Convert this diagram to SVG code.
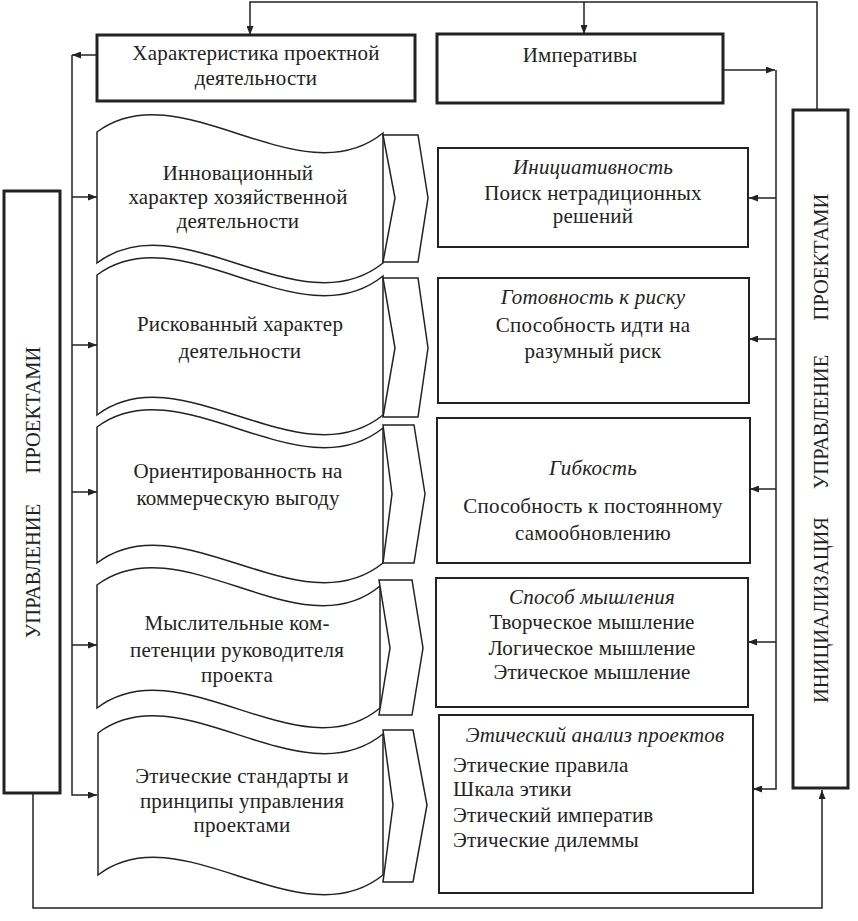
<svg xmlns="http://www.w3.org/2000/svg" width="858" height="921" viewBox="0 0 858 921">
<defs>
<style>
.t{font-family:"Liberation Serif","Times New Roman",serif;font-size:21px;letter-spacing:0.2px;fill:#222;text-anchor:middle}
.i{font-style:italic}
.l{text-anchor:start}
.v{font-family:"Liberation Serif","Times New Roman",serif;font-size:20.5px;fill:#222;text-anchor:middle}
.thick{fill:#fff;stroke:#222;stroke-width:3}
.box{fill:#fff;stroke:#222;stroke-width:2}
.wave{fill:#fff;stroke:#222;stroke-width:1.5}
.con{fill:none;stroke:#222;stroke-width:1.5}
</style>
<marker id="ah" markerWidth="9" markerHeight="7" refX="9" refY="3.5" orient="auto" markerUnits="userSpaceOnUse"><path d="M0,0 L9,3.5 L0,7 z" fill="#222"/></marker>
</defs>
<rect width="858" height="921" fill="#fff"/>

<g id="connectors">
<path class="con" d="M817,110 V2 H250 V35" marker-end="url(#ah)"/>
<path class="con" d="M584,2 V34" marker-end="url(#ah)"/>
<path class="con" d="M723,70 H775" marker-end="url(#ah)"/>
<path class="con" d="M776,70 V789 H753" marker-end="url(#ah)"/>
<path class="con" d="M776,198 H749" marker-end="url(#ah)"/>
<path class="con" d="M776,339 H749" marker-end="url(#ah)"/>
<path class="con" d="M776,489 H750" marker-end="url(#ah)"/>
<path class="con" d="M776,642 H748" marker-end="url(#ah)"/>
<path class="con" d="M97,55 H72" marker-end="url(#ah)"/>
<path class="con" d="M72,55 V795 H97" marker-end="url(#ah)"/>
<path class="con" d="M72,197 H97" marker-end="url(#ah)"/>
<path class="con" d="M72,345 H97" marker-end="url(#ah)"/>
<path class="con" d="M72,492 H97" marker-end="url(#ah)"/>
<path class="con" d="M72,645 H97" marker-end="url(#ah)"/>
<path class="con" d="M33,793 V908 H822 V790" marker-end="url(#ah)"/>
</g>

<g id="char-header">
<rect class="thick" x="97" y="35" width="318" height="66"/>
<text class="t" x="256" y="60">Характеристика проектной</text>
<text class="t" x="256" y="85">деятельности</text>
</g>

<g id="imperatives-header">
<rect class="thick" x="437" y="34" width="286" height="69"/>
<text class="t" x="580" y="62">Императивы</text>
</g>

<g id="left-mgmt">
<rect class="thick" x="4" y="191" width="56" height="602"/>
<text class="v" transform="translate(40,410) rotate(-90)">ПРОЕКТАМИ</text>
<text class="v" transform="translate(40,571) rotate(-90)">УПРАВЛЕНИЕ</text>
</g>

<g id="right-init">
<rect class="thick" x="793" y="110" width="55" height="678"/>
<text class="v" transform="translate(828,257) rotate(-90)">ПРОЕКТАМИ</text>
<text class="v" transform="translate(828,422) rotate(-90)">УПРАВЛЕНИЕ</text>
<text class="v" transform="translate(828,610) rotate(-90)">ИНИЦИАЛИЗАЦИЯ</text>
</g>

<g id="shape1">
<path class="wave" d="M97,132 C180,70 300,200 383,133 V263 C300,330 180,200 97,263 Z"/>
<path class="wave" d="M383,135 H418 L428,198 L418,262 H383 L395,198 Z"/>
<text class="t" x="238" y="180">Инновационный</text>
<text class="t" x="238" y="204">характер хозяйственной</text>
<text class="t" x="238" y="228">деятельности</text>
</g>

<g id="shape2">
<path class="wave" d="M97,275 C180,213 300,343 383,276 V415 C300,482 180,352 97,415 Z"/>
<path class="wave" d="M383,278 H418 L428,348 L418,417 H383 L395,348 Z"/>
<text class="t" x="240" y="331">Рискованный характер</text>
<text class="t" x="240" y="358">деятельности</text>
</g>

<g id="shape3">
<path class="wave" d="M97,427 C180,365 300,495 383,428 V563 C300,630 180,500 97,563 Z"/>
<path class="wave" d="M383,425 H414 L425,494 L414,563 H383 L392,494 Z"/>
<text class="t" x="238" y="478">Ориентированность на</text>
<text class="t" x="238" y="505">коммерческую выгоду</text>
</g>

<g id="shape4">
<path class="wave" d="M97,585 C180,523 300,653 380,586 V708 C300,775 180,645 97,708 Z"/>
<path class="wave" d="M379,580 H412 L423,648 L412,715 H379 L390,648 Z"/>
<text class="t" x="237" y="630">Мыслительные ком-</text>
<text class="t" x="237" y="657">петенции руководителя</text>
<text class="t" x="237" y="682">проекта</text>
</g>

<g id="shape5">
<path class="wave" d="M98,733 C180,671 300,801 383,734 V875 C300,942 180,812 98,875 Z"/>
<path class="wave" d="M383,730 H413 L427,805 L413,882 H383 L393,805 Z"/>
<text class="t" x="242" y="783">Этические стандарты и</text>
<text class="t" x="242" y="808">принципы управления</text>
<text class="t" x="242" y="832">проектами</text>
</g>

<g id="box-initiative">
<rect class="box" x="438" y="148" width="310" height="99"/>
<text class="t i" x="593" y="174">Инициативность</text>
<text class="t" x="593" y="200">Поиск нетрадиционных</text>
<text class="t" x="593" y="223">решений</text>
</g>

<g id="box-risk">
<rect class="box" x="438" y="278" width="311" height="125"/>
<text class="t i" x="593" y="304">Готовность к риску</text>
<text class="t" x="593" y="332">Способность идти на</text>
<text class="t" x="593" y="358">разумный риск</text>
</g>

<g id="box-flex">
<rect class="box" x="437" y="418" width="313" height="145"/>
<text class="t i" x="593" y="475">Гибкость</text>
<text class="t" x="593" y="513">Способность к постоянному</text>
<text class="t" x="593" y="540">самообновлению</text>
</g>

<g id="box-thinking">
<rect class="box" x="436" y="578" width="312" height="129"/>
<text class="t i" x="592" y="604">Способ мышления</text>
<text class="t" x="592" y="629">Творческое мышление</text>
<text class="t" x="592" y="655">Логическое мышление</text>
<text class="t" x="592" y="679">Этическое мышление</text>
</g>

<g id="box-ethics">
<rect class="box" x="439" y="715" width="314" height="178"/>
<text class="t i" x="595" y="742">Этический анализ проектов</text>
<text class="t l" x="453" y="772">Этические правила</text>
<text class="t l" x="453" y="796">Шкала этики</text>
<text class="t l" x="453" y="822">Этический императив</text>
<text class="t l" x="453" y="847">Этические дилеммы</text>
</g>
</svg>
